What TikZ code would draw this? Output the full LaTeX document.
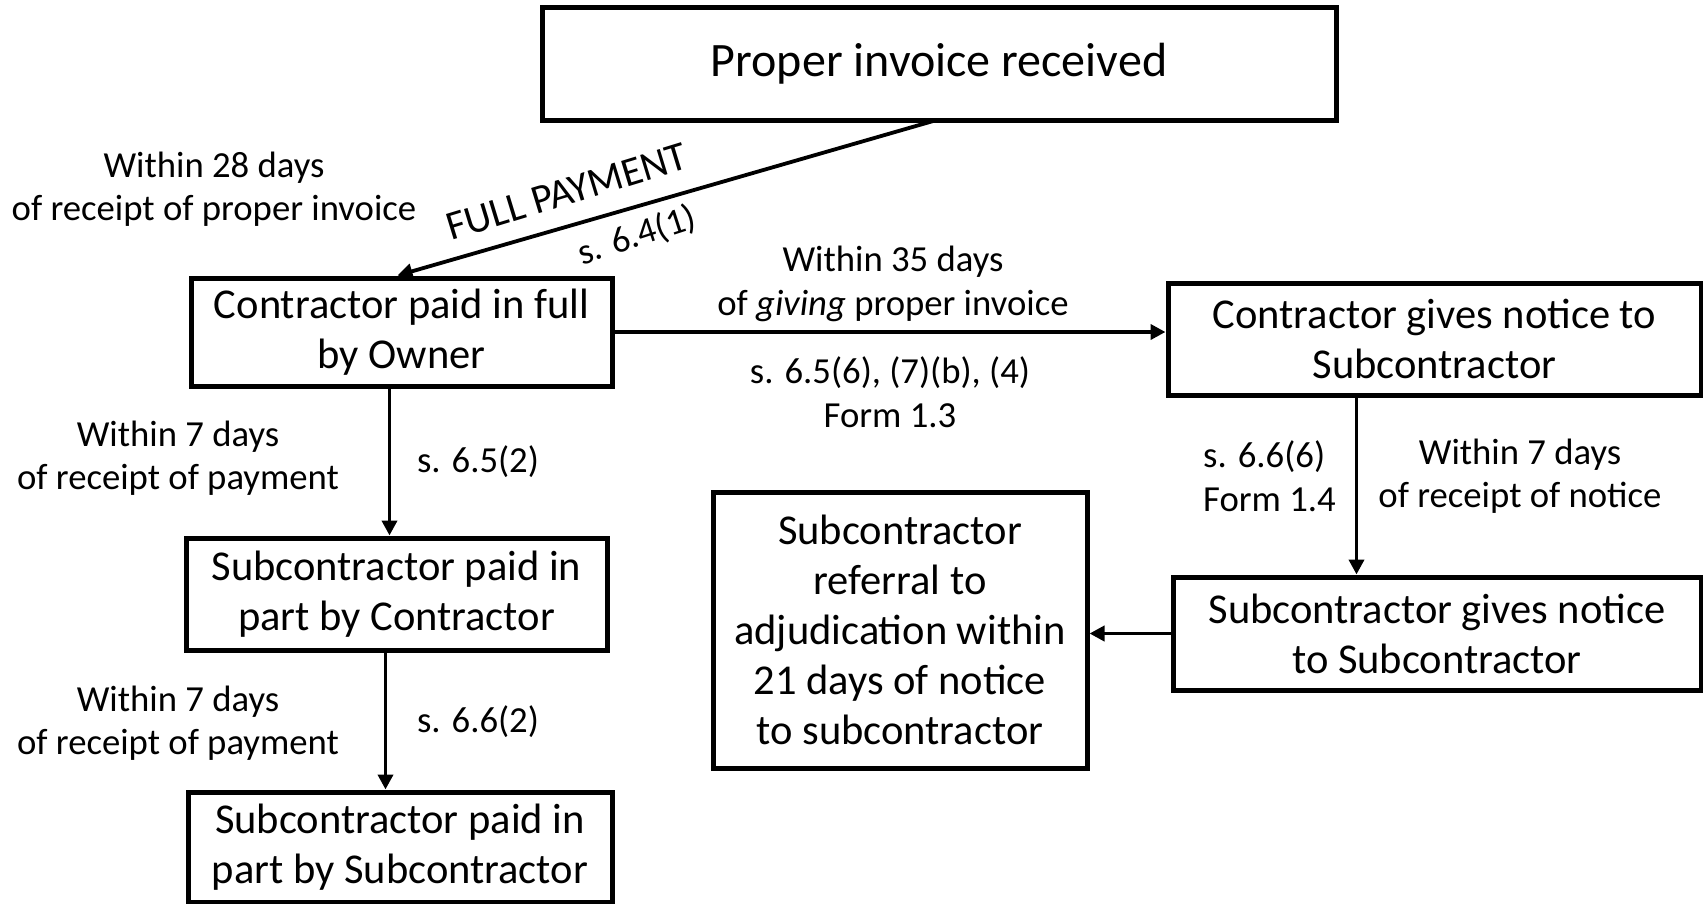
\documentclass[tikz,border=0pt]{standalone}
\usepackage{fontspec}
\setmainfont{Carlito}
\usetikzlibrary{arrows.meta}
\begin{document}
\begin{tikzpicture}[x=1pt,y=-1pt,
  box/.style={draw, line width=5pt, align=center, inner sep=0pt,
    font=\fontsize{42.5}{50}\selectfont},
  lbl/.style={align=center, inner sep=0pt, font=\fontsize{36.7}{43.5}\selectfont},
  flow/.style={line width=3.8pt, -{Triangle[length=15pt,width=15pt]}}]
\useasboundingbox (0,0) rectangle (1703,903);

% boxes
\node[box, font=\fontsize{48}{50}\selectfont, minimum width=794pt, minimum height=113pt] (invoice) at (939,63.5) {Proper invoice received};
\node[box, minimum width=421pt, minimum height=108pt] (cpaid) at (401.5,332) {Contractor paid in full\\by Owner};
\node[box, minimum width=533pt, minimum height=112pt] (cnotice) at (1434.5,339) {Contractor gives notice to\\Subcontractor};
\node[box, minimum width=421pt, minimum height=112pt] (spc) at (396.5,594) {Subcontractor paid in\\part by Contractor};
\node[box, minimum width=424pt, minimum height=110pt] (sps) at (400,847) {Subcontractor paid in\\part by Subcontractor};
\node[box, minimum width=374pt, minimum height=276pt] (referral) at (900,630) {Subcontractor\\referral to\\adjudication within\\21 days of notice\\to subcontractor};
\node[box, minimum width=528pt, minimum height=113pt] (snotice) at (1437,633.5) {Subcontractor gives notice\\to Subcontractor};

% connectors
\draw[flow] ([xshift=-4pt,yshift=2pt]invoice.south) -- ([xshift=-4pt]cpaid.north);
\draw[flow] (cpaid.east) -- (cpaid.east -| cnotice.west);
\draw[flow] ([xshift=-12pt]cpaid.south) -- ([xshift=-12pt]cpaid.south |- spc.north);
\draw[flow] ([xshift=-11pt]spc.south) -- ([xshift=-11pt]spc.south |- sps.north);
\draw[flow] ([xshift=-78pt]cnotice.south) -- ([xshift=-78pt]cnotice.south |- snotice.north);
\draw[flow] (snotice.west) -- (snotice.west -| referral.east);

% labels
\node[lbl] (l28) at (214,189) {Within 28 days\\of receipt of proper invoice};
\node[lbl, rotate=17, font=\fontsize{41}{45}\selectfont] (full) at (567,192) {FULL PAYMENT};
\node[lbl, rotate=18] (s641) at (637,236) {s. 6.4(1)};
\node[lbl] (l35) at (893,284) {Within 35 days\\of \textit{giving} proper invoice};
\node[lbl] (s656) at (890,392) {s. 6.5(6), (7)(b), (4)\\Form 1.3};
\node[lbl] (l7a) at (178,458) {Within 7 days\\of receipt of payment};
\node[lbl] (s652) at (478,462) {s. 6.5(2)};
\node[lbl] (l7b) at (178,723) {Within 7 days\\of receipt of payment};
\node[lbl] (s662) at (478,722) {s. 6.6(2)};
\node[lbl, align=left, anchor=west] (s666) at (1203,476) {s. 6.6(6)\\Form 1.4};
\node[lbl] (l7n) at (1520,476) {Within 7 days\\of receipt of notice};
\end{tikzpicture}
\end{document}
